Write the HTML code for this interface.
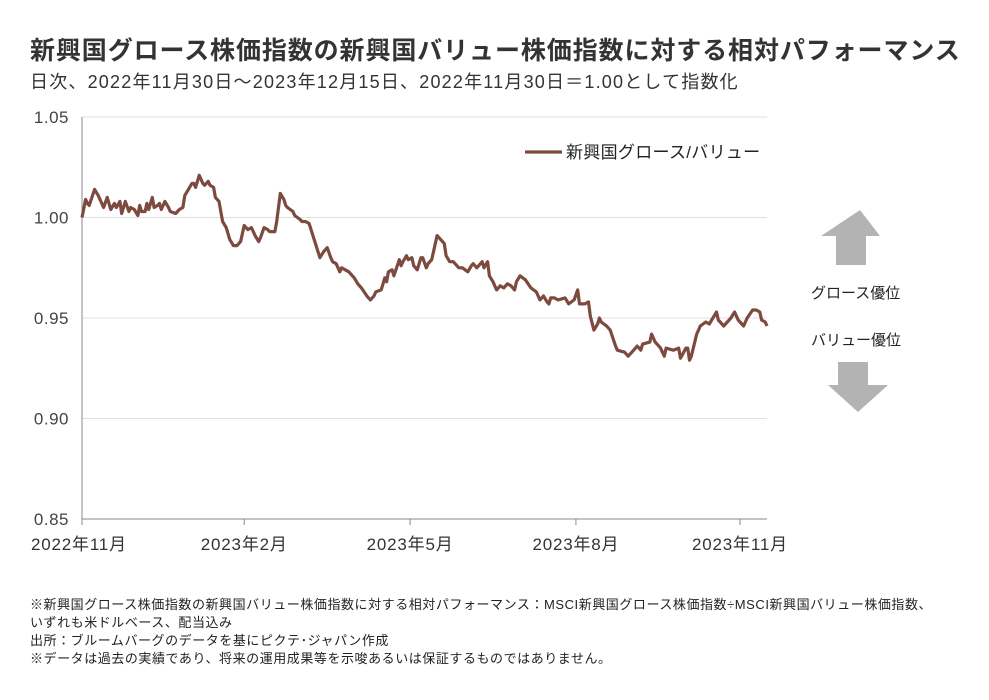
<!DOCTYPE html>
<html><head><meta charset="utf-8">
<style>
body{margin:0;background:#fff;font-family:"Liberation Sans","Noto Sans CJK JP",sans-serif;}
#wrap{position:relative;width:989px;height:700px;overflow:hidden;background:#fff;}
.t{position:absolute;white-space:nowrap;color:#222;}
</style></head><body>
<div id="wrap">
<div class="t" style="left:30px;top:31px;font-size:25px;letter-spacing:0.9px;font-weight:bold;color:#333;">新興国グロース株価指数の新興国バリュー株価指数に対する相対パフォーマンス</div>
<div class="t" style="left:30px;top:68px;font-size:18px;letter-spacing:1.2px;color:#333;">日次、2022年11月30日～2023年12月15日、2022年11月30日＝1.00として指数化</div>
<svg id="chart" width="989" height="700" style="position:absolute;left:0;top:0"></svg>
<div class="t" style="left:30px;top:594px;font-size:13px;letter-spacing:0.55px;">※新興国グロース株価指数の新興国バリュー株価指数に対する相対パフォーマンス：MSCI新興国グロース株価指数÷MSCI新興国バリュー株価指数、</div>
<div class="t" style="left:30px;top:612px;font-size:13px;letter-spacing:0.55px;">いずれも米ドルベース、配当込み</div>
<div class="t" style="left:30px;top:630px;font-size:13px;letter-spacing:0.55px;">出所：ブルームバーグのデータを基にピクテ･ジャパン作成</div>
<div class="t" style="left:30px;top:648px;font-size:13px;letter-spacing:0.55px;">※データは過去の実績であり、将来の運用成果等を示唆あるいは保証するものではありません。</div>
</div>
<script>
const days=[0,2,3,4,7,9,12,14,16,18,19,21,22,24,26,27,29,31,32,33,35,36,37,39,40,42,43,44,46,48,49,52,53,54,56,57,59,61,62,63,65,67,68,70,71,73,74,76,78,80,82,84,86,88,90,92,94,96,98,99,101,103,104,107,108,110,112,113,114,117,118,121,122,124,126,132,134,136,138,139,141,143,144,148,151,153,155,158,160,162,163,166,168,169,170,172,173,176,177,178,180,181,183,184,186,188,189,191,192,194,197,199,201,202,204,206,208,209,211,214,216,217,219,222,223,225,226,228,230,232,234,236,238,240,241,243,246,249,252,254,256,258,259,260,262,264,268,270,273,275,276,279,281,282,284,286,287,288,291,293,296,297,301,303,306,308,310,311,315,316,317,318,321,322,323,324,328,331,332,335,336,337,338,341,343,346,348,350,352,353,356,358,360,362,364,367,369,372,374,376,377,379,380];
const values=[1.000,1.009,1.007,1.006,1.014,1.011,1.005,1.010,1.004,1.007,1.005,1.008,1.002,1.008,1.003,1.005,1.004,1.001,1.006,1.003,1.003,1.007,1.004,1.010,1.005,1.006,1.007,1.004,1.008,1.005,1.003,1.002,1.003,1.004,1.005,1.011,1.014,1.017,1.017,1.015,1.021,1.017,1.016,1.018,1.016,1.015,1.010,1.008,0.998,0.995,0.989,0.986,0.986,0.988,0.996,0.994,0.995,0.991,0.988,0.990,0.995,0.994,0.993,0.993,0.998,1.012,1.009,1.006,1.005,1.003,1.001,0.999,0.998,0.998,0.997,0.980,0.983,0.985,0.980,0.978,0.977,0.973,0.975,0.973,0.970,0.967,0.965,0.961,0.959,0.961,0.963,0.964,0.970,0.968,0.973,0.974,0.971,0.979,0.976,0.978,0.981,0.979,0.980,0.976,0.974,0.980,0.980,0.975,0.977,0.979,0.991,0.989,0.987,0.981,0.978,0.978,0.976,0.975,0.975,0.973,0.976,0.977,0.975,0.978,0.975,0.978,0.971,0.968,0.964,0.966,0.965,0.967,0.966,0.964,0.968,0.971,0.969,0.965,0.963,0.959,0.961,0.958,0.957,0.960,0.960,0.959,0.960,0.957,0.959,0.964,0.957,0.957,0.958,0.951,0.944,0.947,0.950,0.948,0.946,0.944,0.936,0.934,0.933,0.931,0.934,0.936,0.934,0.937,0.938,0.942,0.940,0.938,0.935,0.933,0.931,0.935,0.934,0.935,0.930,0.935,0.935,0.929,0.931,0.942,0.946,0.948,0.947,0.950,0.953,0.949,0.946,0.948,0.950,0.953,0.949,0.946,0.950,0.954,0.954,0.953,0.949,0.948,0.946];
const yTicks=[1.05,1.00,0.95,0.90,0.85];
const yTickLabels=["1.05","1.00","0.95","0.90","0.85"];
const xTickDays=[0,90,182,274,365];
const xTickLabels=["2022年11月","2023年2月","2023年5月","2023年8月","2023年11月"];

const svg=document.getElementById('chart');
const NS='http://www.w3.org/2000/svg';
const L=82,R=767,T=117,B=519,XMAX=380;
const xs=d=>L+(R-L)*d/XMAX;
const ys=v=>T+(B-T)*(1.05-v)/0.2;
function mk(tag,attrs){const e=document.createElementNS(NS,tag);for(const k in attrs)e.setAttribute(k,attrs[k]);svg.appendChild(e);return e;}
yTicks.forEach((v,i)=>{
  const g=mk('line',{x1:L,x2:R,y1:ys(v),y2:ys(v),stroke:'#e0e0e0','stroke-width':1});
  
  
  const t=mk('text',{x:69,y:ys(v)+6,'text-anchor':'end','font-size':17,'letter-spacing':0.5,fill:'#444','font-family':'Liberation Sans, sans-serif'});
  t.textContent=yTickLabels[i];
  
  
});
const ya=mk('line',{x1:L,x2:L,y1:T,y2:B,stroke:'#888','stroke-width':1});


const xa=mk('line',{x1:L,x2:R,y1:B,y2:B,stroke:'#888','stroke-width':1});


xTickDays.forEach((d,i)=>{
  const tk=mk('line',{x1:xs(d),x2:xs(d),y1:B,y2:B+6,stroke:'#888'});
  
  
  const t=mk('text',{x:xs(d),y:B+31,'text-anchor':i==0?'start':'middle','font-size':17,'letter-spacing':0.8,fill:'#333','font-family':'Liberation Sans, Noto Sans CJK JP, sans-serif'});
  if(i==0)t.setAttribute('x',31);
  t.textContent=xTickLabels[i];
  
  
});
const pts=days.map((d,i)=>xs(d).toFixed(1)+','+ys(values[i]).toFixed(1)).join(' ');
const line=mk('polyline',{points:pts,fill:'none',stroke:'#7d4a3f','stroke-width':3.2,'stroke-linejoin':'round'});


const lg=mk('line',{x1:525,x2:562,y1:152,y2:152,stroke:'#7d4a3f','stroke-width':3.2});


const lt=mk('text',{x:566,y:158,'font-size':17,'letter-spacing':0.3,fill:'#222','font-family':'Liberation Sans, Noto Sans CJK JP, sans-serif'});
lt.textContent='新興国グロース/バリュー';


const up=mk('polygon',{points:'860,210 880,236 866,236 866,265 836,265 836,236 821,236',fill:'#b3b3b3'});


const dn=mk('polygon',{points:'838,362 868,362 868,385 888,385 858,412 828,385 838,385',fill:'#b3b3b3'});


const g1=mk('text',{x:811,y:298,'font-size':15,fill:'#222','font-family':'Liberation Sans, Noto Sans CJK JP, sans-serif'});
g1.textContent='グロース優位';


const g2=mk('text',{x:811,y:345,'font-size':15,fill:'#222','font-family':'Liberation Sans, Noto Sans CJK JP, sans-serif'});
g2.textContent='バリュー優位';


</script>
</body></html>
